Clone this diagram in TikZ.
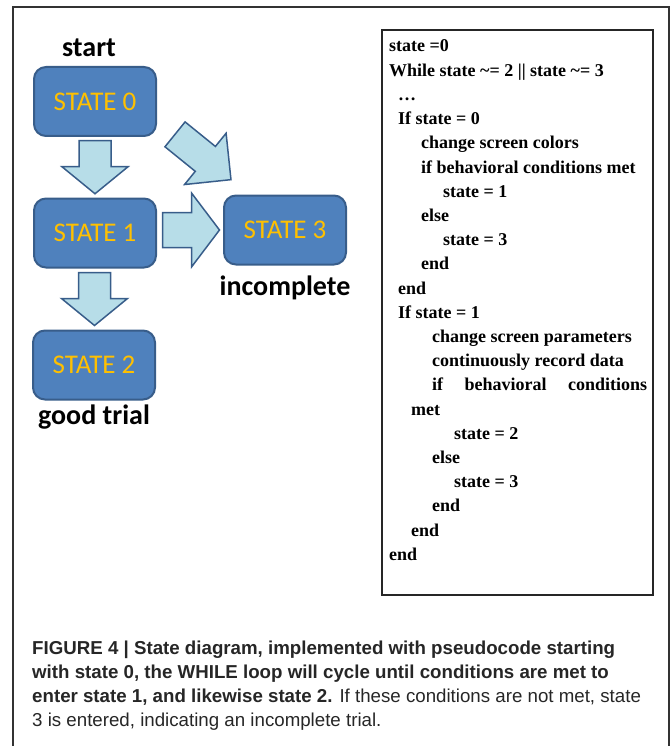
\documentclass[tikz,border=0pt]{standalone}
\usepackage{fontspec}
\setmainfont{Liberation Serif}
\newfontfamily\calibri{Carlito}
\newfontfamily\capfont{Liberation Sans}
\usetikzlibrary{calc}

\definecolor{boxblue}{HTML}{4F81BD}
\definecolor{boxedge}{HTML}{385D8A}
\definecolor{arrowfill}{HTML}{B7DDE8}
\definecolor{stategold}{HTML}{FFC000}

\begin{document}
\begin{tikzpicture}[x=1pt, y=-1pt,
    statebox/.style={draw=boxedge, line width=2pt, fill=boxblue, rounded corners=12pt, minimum width=122pt, minimum height=69pt, text=stategold, font=\calibri\fontsize{27}{30}\selectfont},
    lbl/.style={anchor=base, font=\calibri\bfseries\fontsize{28}{30}\selectfont},
    arrowbody/.style={draw=boxedge, line width=1.5pt, fill=arrowfill},
    codeline/.style={anchor=base west, inner sep=0pt, font=\bfseries\fontsize{18}{22}\selectfont},
    capline/.style={anchor=base west, inner sep=0pt, text=black!85, font=\capfont\fontsize{18.7}{24}\selectfont},
    pics/blockarrow/.style n args={4}{code={
      \draw[arrowbody] (-#1/2,-#3) -- (#1/2-#2,-#3) -- (#1/2-#2,-#4) -- (#1/2,0)
        -- (#1/2-#2,#4) -- (#1/2-#2,#3) -- (-#1/2,#3) -- cycle;
    }},
  ]
  \useasboundingbox (0,0) rectangle (671,746);

  % outer frame and code frame
  \draw[black!80, line width=1.2pt] (13,746) -- (13,7) -- (669,7) -- (669,746);
  \draw[black!85, line width=1.3pt] (382,30) rectangle (653,595);

  % states
  \node[statebox] (s0) at (95,101.5) {STATE 0};
  \node[statebox] (s1) at (95,233) {STATE 1};
  \node[statebox] (s2) at (94,365) {STATE 2};
  \node[statebox] (s3) at (285,230) {STATE 3};

  \node[lbl] (start) at (89,57) {start};
  \node[lbl] (incomplete) at (285,295) {incomplete};
  \node[lbl] (good) at (94,424) {good trial};

  % block arrows
  \pic[rotate=-90] (a01) at ($(s0.south)!.5!(s1.north)$) {blockarrow={53}{27}{16}{33}};
  \pic[rotate=-90] (a12) at ($(s1.south)!.5!(s2.north)$) {blockarrow={53}{27}{16}{33}};
  \pic (a13) at ($(s1.east)!.5!(s3.west)+(1,-1.5)$) {blockarrow={57}{28}{17.5}{37}};
  \pic[rotate=-39] (a03) at (203,157) {blockarrow={72}{33}{16}{33}};

  % pseudocode
  \foreach \dx/\txt [count=\i from 0] in {
      389/{state =0},
      389/{While state \textasciitilde= 2 || state \textasciitilde= 3},
      398/{…},
      398/{If state = 0},
      421/{change screen colors},
      421/{if behavioral conditions met},
      443/{state = 1},
      421/{else},
      443/{state = 3},
      421/{end},
      398/{end},
      398/{If state = 1},
      432/{change screen parameters},
      432/{continuously record data},
      432/{\makebox[215pt][s]{if behavioral conditions}},
      411/{met},
      454/{state = 2},
      432/{else},
      454/{state = 3},
      432/{end},
      411/{end},
      389/{end}}
    \node[codeline] (c\i) at (\dx,52+24.2*\i) {\txt};

  % caption
  \foreach \txt [count=\i from 0] in {
      {\bfseries FIGURE 4 | State diagram, implemented with pseudocode starting},
      {\bfseries with state 0, the WHILE loop will cycle until conditions are met to},
      {\textbf{enter state 1, and likewise state 2.} If these conditions are not met, state},
      {3 is entered, indicating an incomplete trial.}}
    \node[capline] (cap\i) at (32,654+24*\i) {\txt};
\end{tikzpicture}
\end{document}
